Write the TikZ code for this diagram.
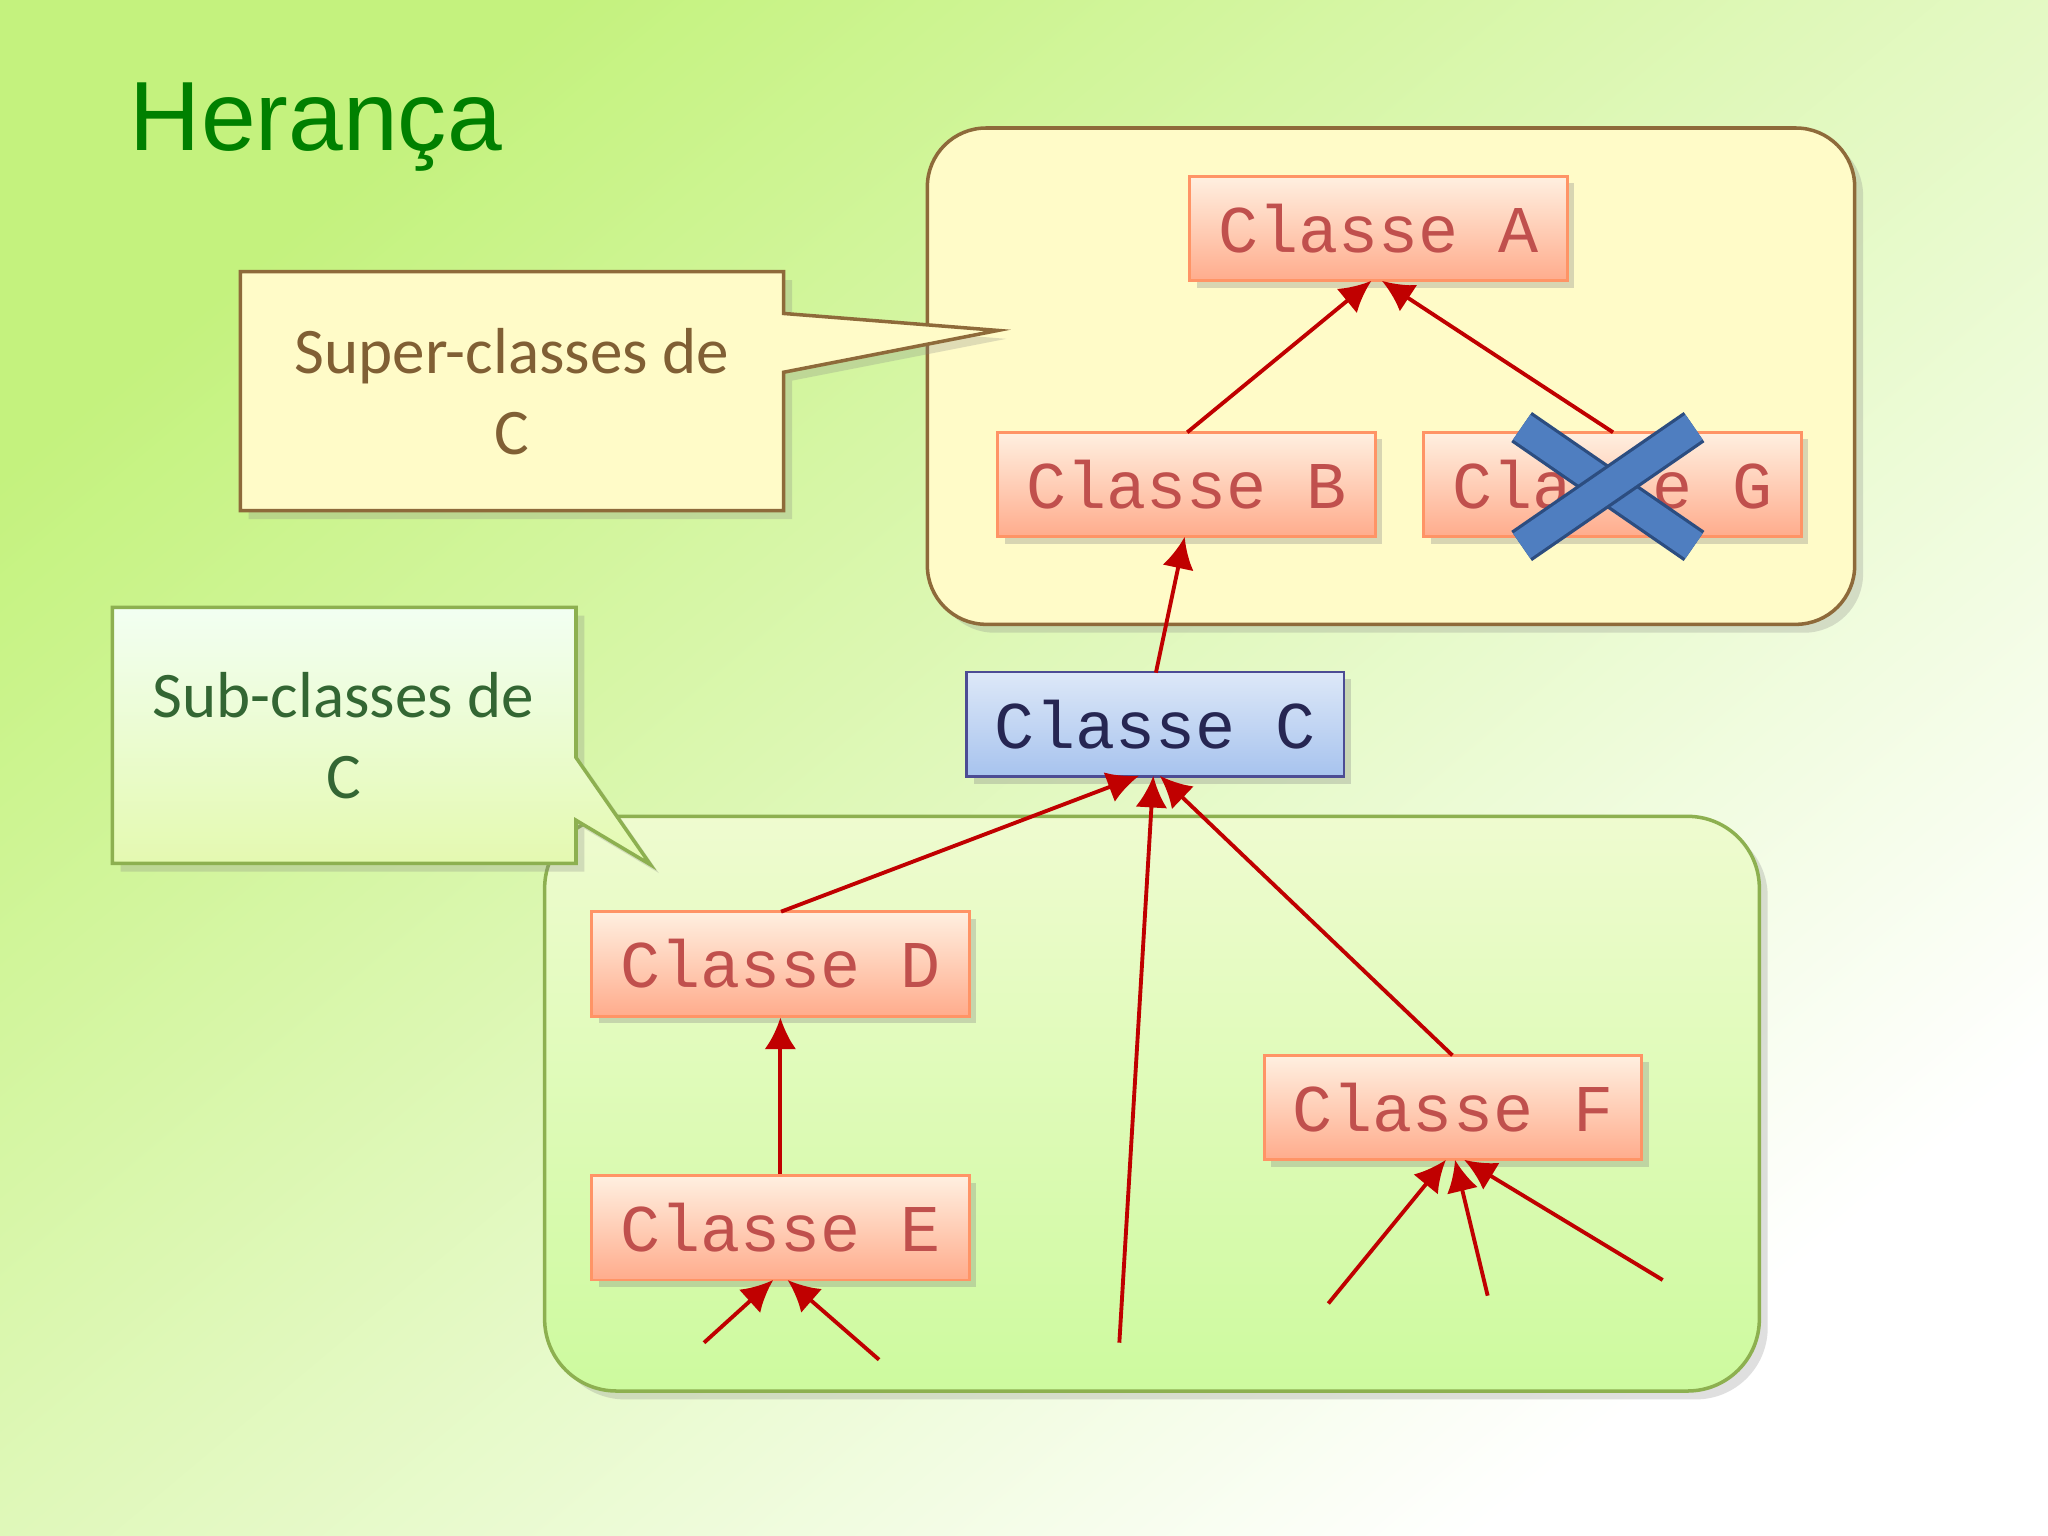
\documentclass[tikz,border=0pt]{standalone}
\usepackage{fontspec}
\setmainfont{Carlito}
\newfontfamily\monof{Liberation Mono}
\newfontfamily\titlef{Liberation Sans}
\usetikzlibrary{shadows,arrows.meta}
\definecolor{bgg}{HTML}{C4F27E}
\definecolor{supfill}{HTML}{FFFBC8}
\definecolor{supline}{HTML}{8E6A3A}
\definecolor{subfill}{HTML}{E4F9B0}
\definecolor{subline}{HTML}{8DB050}
\definecolor{redtxt}{HTML}{C0504D}
\definecolor{arr}{HTML}{C00000}
\definecolor{bluex}{HTML}{4F7EC0}
\definecolor{bluexd}{HTML}{2C4D80}
\definecolor{ctop}{HTML}{DDE8F8}
\definecolor{cbot}{HTML}{A7C3EE}
\newlength{\px}\setlength{\px}{0.13061mm}
\tikzset{
 cls/.style={draw=red!40!orange!60, line width=0.8pt, minimum width=289\px, minimum height=80\px, inner sep=0pt,
   top color=orange!12!white, bottom color=orange!55!red!45!white, font=\monof\fontsize{19}{19}\selectfont, text=redtxt,
   drop shadow={opacity=0.3, shadow xshift=2pt, shadow yshift=-2pt}},
 clsc/.style={cls, draw=blue!40!black!70, top color=ctop, bottom color=cbot, text=blue!20!black!85},
 inh/.style={draw=arr, line width=1.1pt, -{Latex[length=9pt,width=9pt]}},
}
\begin{document}
\begin{tikzpicture}[x=\px,y=-\px]
\useasboundingbox (0,0) rectangle (1568,1176);
\shade[top color=bgg, bottom color=white, shading angle=40] (0,0) rectangle (1568,1176);
\node[font=\titlef\fontsize{28}{28}\selectfont, text=green!50!black, anchor=west] (title) at (90,97) {Herança};
\draw[supline, line width=1pt, fill=supfill, rounded corners=45\px, drop shadow={opacity=0.25}] (710,98) rectangle (1420,478);
\draw[subline, line width=1pt, top color=subfill!60!white, bottom color=subfill!90!green, rounded corners=55\px, drop shadow={opacity=0.25}] (417,625) rectangle (1347,1065);
\draw[supline, line width=1pt, fill=supfill, drop shadow={opacity=0.25}] (184,208) -- (600,208) -- (600,240) -- (764,253) -- (600,285) -- (600,391) -- (184,391) -- cycle;
\node[text=supline!90!black, align=center, font=\fontsize{18.5}{23}\selectfont] (suptxt) at (392,300) {Super-classes de\\C};
\draw[subline, line width=1pt, top color=green!5!white, bottom color=subfill, drop shadow={opacity=0.25}] (86,465) -- (441,465) -- (441,580) -- (498,662) -- (441,628) -- (441,661) -- (86,661) -- cycle;
\node[text=green!25!black!80, align=center, font=\fontsize{18.5}{23}\selectfont] (subtxt) at (263,563) {Sub-classes de\\C};
\node[cls] (A) at (1055.5,175) {Classe A};
\node[cls] (B) at (908.5,371) {Classe B};
\node[cls] (G) at (1234.5,371) {Classe G};
\node[clsc] (C) at (884.5,554.5) {Classe C};
\node[cls] (D) at (597.5,738) {Classe D};
\node[cls] (E) at (597.5,940) {Classe E};
\node[cls] (F) at (1112.5,848) {Classe F};
\draw[inh] (909,331) -- (1050,215);
\draw[inh] (1235,331) -- (1058,215);
\draw[inh] (885,515) -- (907,411);
\draw[inh] (598,698) -- (872,594);
\draw[inh] (D.south |- E.north) -- (D.south);
\draw[inh] (1112,808) -- (888,594);
\coordinate (p1) at (857,1028);
\draw[inh] (p1) -- (883,594);
\coordinate (e1) at (539,1028); \coordinate (e2) at (673,1041);
\draw[inh] (e1) -- (592,980); \draw[inh] (e2) -- (603,980);
\coordinate (f1) at (1017,998); \coordinate (f2) at (1139,992); \coordinate (f3) at (1273,980);
\draw[inh] (f1) -- (1107,888); \draw[inh] (f2) -- (1114,888); \draw[inh] (f3) -- (1121,888);
\foreach \a/\b in {{(1165,327)}/{(1297,418)},{(1165,418)}/{(1297,327)}}{
 \draw[bluexd, line width=28\px] \a -- \b;
 \draw[bluex, line width=23\px] \a -- \b;}
\end{tikzpicture}
\end{document}
